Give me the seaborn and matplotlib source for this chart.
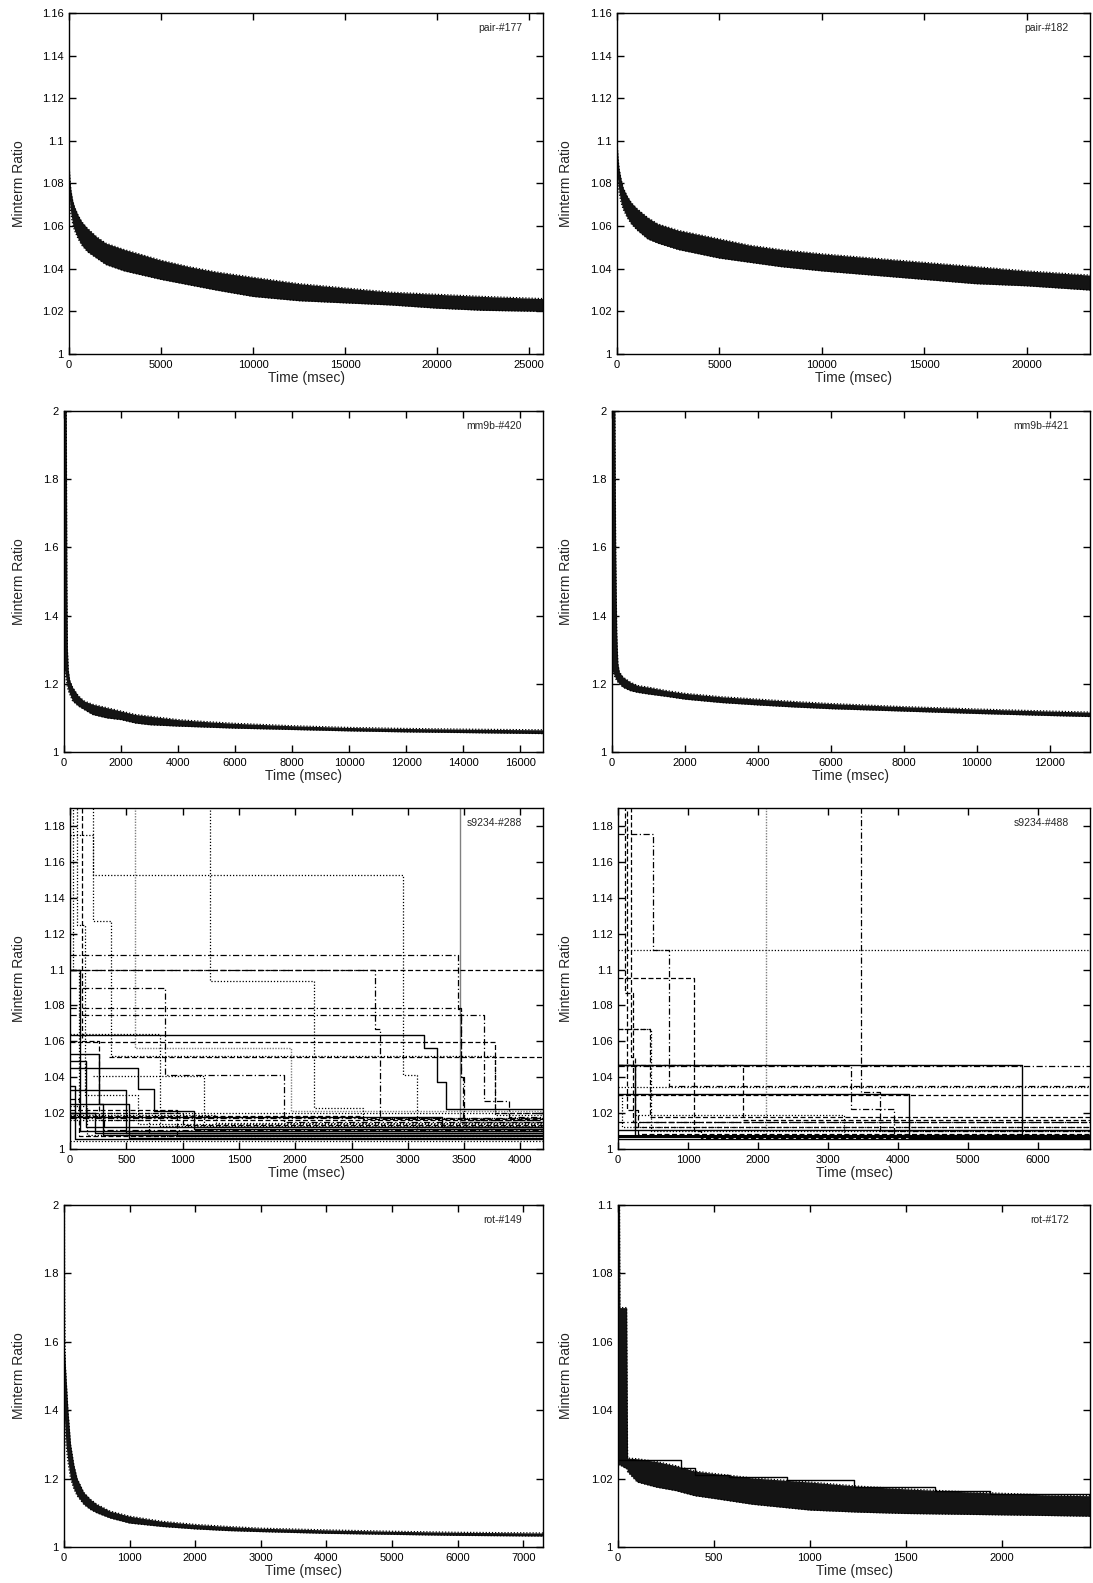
import matplotlib
matplotlib.use("Agg")
import matplotlib.pyplot as plt
import seaborn as sns

# ===============================
# Data
# ===============================
panel_names = ["pair-#177", "pair-#182", "mm9b-#420", "mm9b-#421",
               "s9234-#288", "s9234-#488", "rot-#149", "rot-#172"]

# axis ranges
xmax = [25760, 23100, 16800, 13100, 4200, 6750, 7300, 2460]
ymin = [1, 1, 1, 1, 1, 1, 1, 1]
ymax = [1.16, 1.16, 2, 2, 1.19, 1.19, 2, 1.1]

# ticks
xticks = [
    [0, 5000, 10000, 15000, 20000, 25000],
    [0, 5000, 10000, 15000, 20000],
    [0, 2000, 4000, 6000, 8000, 10000, 12000, 14000, 16000],
    [0, 2000, 4000, 6000, 8000, 10000, 12000],
    [0, 500, 1000, 1500, 2000, 2500, 3000, 3500, 4000],
    [0, 1000, 2000, 3000, 4000, 5000, 6000],
    [0, 1000, 2000, 3000, 4000, 5000, 6000, 7000],
    [0, 500, 1000, 1500, 2000],
]
yticks = [
    [1, 1.02, 1.04, 1.06, 1.08, 1.1, 1.12, 1.14, 1.16],
    [1, 1.02, 1.04, 1.06, 1.08, 1.1, 1.12, 1.14, 1.16],
    [1, 1.2, 1.4, 1.6, 1.8, 2],
    [1, 1.2, 1.4, 1.6, 1.8, 2],
    [1, 1.02, 1.04, 1.06, 1.08, 1.1, 1.12, 1.14, 1.16, 1.18],
    [1, 1.02, 1.04, 1.06, 1.08, 1.1, 1.12, 1.14, 1.16, 1.18],
    [1, 1.2, 1.4, 1.6, 1.8, 2],
    [1, 1.02, 1.04, 1.06, 1.08, 1.1],
]

# --- dense bundles: envelope of all runs ---
p177_x = [0, 50, 100, 200, 300, 500, 700, 1000, 1500, 2000, 3000, 4000, 5000,
          6500, 8000, 10000, 12500, 15000, 17500, 20000, 22500, 25760]
p177_hi = [1.09, 1.082, 1.077, 1.072, 1.069, 1.065, 1.062, 1.059, 1.055, 1.052, 1.049,
           1.0465, 1.044, 1.041, 1.0385, 1.036, 1.033, 1.031, 1.029, 1.028, 1.027, 1.026]
p177_lo = [1.075, 1.07, 1.066, 1.061, 1.058, 1.054, 1.051, 1.048, 1.045, 1.042, 1.039,
           1.037, 1.035, 1.0325, 1.030, 1.027, 1.025, 1.024, 1.023, 1.0215, 1.0205, 1.020]

p182_x = [0, 50, 100, 200, 300, 500, 700, 1000, 1500, 2000, 3000, 4000, 5000,
          6500, 8000, 10000, 12500, 15000, 17500, 20000, 23100]
p182_hi = [1.10, 1.092, 1.087, 1.082, 1.078, 1.074, 1.071, 1.068, 1.064, 1.061, 1.058,
           1.056, 1.054, 1.051, 1.049, 1.047, 1.045, 1.043, 1.041, 1.039, 1.037]
p182_lo = [1.085, 1.08, 1.076, 1.071, 1.068, 1.064, 1.061, 1.058, 1.054, 1.052, 1.049,
           1.047, 1.045, 1.043, 1.041, 1.039, 1.037, 1.035, 1.033, 1.032, 1.030]

m420_x = [0, 40, 80, 100, 120, 150, 200, 300, 500, 700, 1000, 1500, 2000, 2500,
          3000, 4000, 5000, 6000, 8000, 10000, 12000, 14000, 16800]
m420_hi = [2.0, 2.0, 2.0, 1.5, 1.3, 1.24, 1.21, 1.19, 1.165, 1.15, 1.14, 1.13, 1.12,
           1.11, 1.105, 1.095, 1.089, 1.084, 1.077, 1.072, 1.069, 1.067, 1.065]
m420_lo = [1.25, 1.23, 1.21, 1.2, 1.19, 1.18, 1.17, 1.15, 1.135, 1.125, 1.11, 1.1,
           1.095, 1.085, 1.08, 1.076, 1.073, 1.07, 1.066, 1.062, 1.059, 1.057, 1.054]

m421_x = [0, 40, 80, 100, 130, 160, 200, 300, 500, 700, 1000, 1500, 2000, 3000,
          4000, 5000, 6000, 8000, 10000, 12000, 13100]
m421_hi = [2.0, 2.0, 2.0, 1.6, 1.35, 1.26, 1.235, 1.22, 1.205, 1.195, 1.19, 1.18,
           1.172, 1.162, 1.155, 1.148, 1.142, 1.133, 1.126, 1.12, 1.117]
m421_lo = [1.24, 1.23, 1.22, 1.215, 1.21, 1.205, 1.2, 1.19, 1.18, 1.175, 1.17, 1.163,
           1.155, 1.145, 1.138, 1.132, 1.127, 1.12, 1.113, 1.107, 1.104]

r149_x = [0, 30, 60, 100, 150, 200, 300, 400, 500, 700, 1000, 1500, 2000, 2500,
          3000, 4000, 5000, 6000, 7300]
r149_hi = [1.6, 1.5, 1.4, 1.3, 1.24, 1.2, 1.16, 1.14, 1.125, 1.105, 1.09, 1.075,
           1.066, 1.06, 1.055, 1.05, 1.046, 1.043, 1.041]
r149_lo = [1.4, 1.3, 1.25, 1.2, 1.17, 1.15, 1.125, 1.11, 1.1, 1.085, 1.07, 1.06,
           1.053, 1.048, 1.045, 1.04, 1.037, 1.034, 1.032]
r149_spike_x = [6, 10, 22]
r149_spike_y = [2.0, 1.75, 1.5]

r172_x = [0, 8, 10, 40, 45, 50, 100, 200, 300, 400, 500, 700, 1000, 1250, 1500,
          1750, 2000, 2250, 2460]
r172_hi = [1.1, 1.1, 1.07, 1.07, 1.07, 1.026, 1.0258, 1.025, 1.0238, 1.0222, 1.0215,
           1.0202, 1.019, 1.0178, 1.017, 1.0163, 1.0157, 1.0152, 1.015]
r172_lo = [1.024, 1.024, 1.024, 1.023, 1.023, 1.022, 1.019, 1.0175, 1.0165, 1.015,
           1.0142, 1.0125, 1.0108, 1.0102, 1.0098, 1.0096, 1.0094, 1.0092, 1.009]
r172_top_x = [0, 330, 400, 580, 880, 1230, 1650, 1940, 2460]
r172_top_y = [1.0255, 1.023, 1.021, 1.0205, 1.0195, 1.0175, 1.0165, 1.0155, 1.015]

# --- s9234: individual step runs (change points) ---
s288_x = [
    [0, 3460, 4200], [0, 576, 1960, 4200], [0, 1246, 2165, 2600, 4200],
    [0, 202, 2953, 3078, 4200], [0, 3442, 3470, 3490, 4200], [0, 4200],
    [0, 2704, 2757, 4200], [0, 841, 1900, 4200], [0, 3470, 3500, 4200],
    [0, 3676, 3894, 4200], [0, 3146, 3255, 3343, 4200], [0, 3776, 4200],
    [350, 4200], [200, 1190, 4200], [0, 259, 290, 4200], [0, 601, 748, 1100, 4200],
    [0, 93, 4200], [0, 140, 4200], [0, 498, 4200], [0, 202, 368, 3776, 4200],
    [0, 30, 80, 4200], [0, 60, 130, 600, 4200], [0, 110, 260, 4200],
    [0, 800, 4200], [0, 950, 4200],
    [0, 40, 4200], [0, 80, 4200], [0, 150, 4200], [0, 220, 4200], [0, 300, 4200],
    [0, 520, 4200], [0, 1000, 4200], [0, 1300, 4200], [0, 2600, 4200],
    [0, 3300, 4200], [0, 4200], [0, 4200], [0, 700, 4200],
]
s288_y = [
    [1.25, 1.015, 1.015], [1.25, 1.056, 1.021, 1.021], [1.25, 1.0936, 1.0228, 1.012, 1.012],
    [1.25, 1.1528, 1.0413, 1.010, 1.010], [1.108, 1.078, 1.04, 1.016, 1.016], [1.1, 1.1],
    [1.1, 1.0666, 1.017, 1.017], [1.0897, 1.041, 1.015, 1.015], [1.0788, 1.04, 1.012, 1.012],
    [1.0744, 1.0265, 1.018, 1.018], [1.0634, 1.056, 1.0372, 1.0222, 1.0222], [1.0594, 1.02, 1.02],
    [1.051, 1.051], [1.0405, 1.012, 1.012], [1.053, 1.025, 1.008, 1.008],
    [1.045, 1.0335, 1.021, 1.011, 1.011],
    [1.1, 1.01, 1.01], [1.049, 1.012, 1.012], [1.033, 1.009, 1.009],
    [1.175, 1.127, 1.052, 1.019, 1.019],
    [1.25, 1.10, 1.02, 1.02], [1.25, 1.125, 1.03, 1.014, 1.014], [1.25, 1.06, 1.016, 1.016],
    [1.064, 1.013, 1.013], [1.022, 1.007, 1.007],
    [1.035, 1.0055, 1.0055], [1.028, 1.007, 1.007], [1.024, 1.008, 1.008],
    [1.02, 1.009, 1.009], [1.018, 1.0105, 1.0105],
    [1.025, 1.006, 1.006], [1.02, 1.0135, 1.0135], [1.019, 1.0145, 1.0145],
    [1.0185, 1.0165, 1.0165], [1.018, 1.0125, 1.0125], [1.0175, 1.0175],
    [1.0045, 1.0045], [1.016, 1.0075, 1.0075],
]
s288_styles = [
    "grey", "greydot", "dotted", "dotted", "dashdot", "dashed",
    "dashdot", "dashdot", "dashdot", "dashdot", "solid", "dashed",
    "dashed", "dotted", "solid", "solid",
    "solid", "solid", "solid", "dotted",
    "dotted", "dotted", "dashed", "dotted", "dashed",
    "solid", "dashed", "dotted", "solid", "dashdot",
    "solid", "dashed", "dotted", "dashed", "solid", "dashdot", "dotted", "dotted",
]

s488_x = [
    [0, 2114, 6750], [0, 6750], [0, 3475, 3740, 6750], [0, 505, 728, 6750],
    [0, 1089, 1180, 6750], [0, 455, 6750], [0, 5777, 6750], [0, 3327, 3946, 6750],
    [3475, 6750], [0, 4168, 6750], [0, 6750], [0, 6750], [0, 1782, 6750],
    [250, 3238, 6750], [0, 6750], [0, 6750], [0, 6750], [0, 6750],
    [0, 99, 210, 6750], [0, 193, 240, 6750], [0, 250, 6750], [0, 470, 6750],
    [0, 60, 6750], [0, 130, 280, 6750],
]
s488_y = [
    [1.25, 1.0065, 1.0065], [1.111, 1.1102], [1.25, 1.032, 1.01, 1.01],
    [1.1757, 1.111, 1.035, 1.035], [1.0951, 1.01, 1.006, 1.006], [1.067, 1.018, 1.018],
    [1.0469, 1.006, 1.006], [1.046, 1.0222, 1.008, 1.008], [1.0462, 1.0462],
    [1.0308, 1.006, 1.006], [1.0302, 1.0302], [1.0343, 1.0343], [1.0469, 1.016, 1.016],
    [1.019, 1.008, 1.008], [1.0148, 1.0148], [1.0107, 1.0098], [1.007, 1.007],
    [1.0055, 1.0055], [1.25, 1.087, 1.015, 1.015], [1.25, 1.051, 1.012, 1.012],
    [1.047, 1.007, 1.007], [1.067, 1.01, 1.01], [1.03, 1.012, 1.012],
    [1.25, 1.022, 1.0085, 1.0085],
]
s488_styles = [
    "greydot", "dotted", "dashdot", "dashdot", "dashed", "dashed", "solid", "dashdot",
    "dashdot", "solid", "dashed", "dotted", "dashed", "dotted", "dashdot", "solid",
    "thick", "solid", "dashed", "dashed", "solid", "dotted", "dotted", "dashed",
]

bands = {
    0: (p177_x, p177_lo, p177_hi),
    1: (p182_x, p182_lo, p182_hi),
    2: (m420_x, m420_lo, m420_hi),
    3: (m421_x, m421_lo, m421_hi),
    6: (r149_x, r149_lo, r149_hi),
    7: (r172_x, r172_lo, r172_hi),
}
steps = {4: (s288_x, s288_y, s288_styles), 5: (s488_x, s488_y, s488_styles)}

# ===============================
# Layout (pixel boxes: left, top, right, bottom)
# ===============================
W, H = 1093, 1583
boxes = [
    (69, 13, 543, 354), (617, 13, 1090, 354),
    (64, 411, 543, 752), (612, 411, 1090, 752),
    (70, 808, 543, 1149), (618, 808, 1090, 1149),
    (64, 1205, 543, 1547), (618, 1205, 1090, 1547),
]

line_styles = {
    "solid": dict(color="black", linewidth=1.0, linestyle="-"),
    "thick": dict(color="black", linewidth=2.2, linestyle="-"),
    "dashed": dict(color="black", linewidth=0.9, linestyle=(0, (4, 2))),
    "dotted": dict(color="black", linewidth=0.9, linestyle=(0, (1, 1.5))),
    "dashdot": dict(color="black", linewidth=0.9, linestyle=(0, (5, 2, 1, 2))),
    "grey": dict(color="0.5", linewidth=1.0, linestyle="-"),
    "greydot": dict(color="0.5", linewidth=1.0, linestyle=(0, (1, 1))),
}

sns.set_style("ticks")
plt.rcParams['font.family'] = ['Liberation Sans', 'DejaVu Sans']
plt.rcParams['axes.linewidth'] = 1.0

fig = plt.figure(figsize=(W / 100, H / 100), dpi=100)

for i, name in enumerate(panel_names):
    l, t, r, b = boxes[i]
    w_px, h_px = r - l, b - t
    ax = fig.add_axes([l / W, 1 - b / H, w_px / W, h_px / H])

    if i in bands:
        bx, blo, bhi = bands[i]
        ax.fill_between(bx, blo, bhi, color="0.08", linewidth=0)
        sns.lineplot(x=bx, y=bhi, ax=ax, estimator=None, sort=False, **line_styles["dotted"])
        sns.lineplot(x=bx, y=blo, ax=ax, estimator=None, sort=False, **line_styles["dotted"])
    if i == 6:
        sns.lineplot(x=r149_spike_x, y=r149_spike_y, ax=ax, estimator=None, sort=False,
                     **line_styles["dotted"])
    if i == 7:
        sns.lineplot(x=r172_top_x, y=r172_top_y, ax=ax, estimator=None, sort=False,
                     drawstyle="steps-post", **line_styles["solid"])
    if i in steps:
        sx, sy, sst = steps[i]
        for xs, ys, st in zip(sx, sy, sst):
            sns.lineplot(x=xs, y=ys, ax=ax, estimator=None, sort=False,
                         drawstyle="steps-post", **line_styles[st])

    ax.set_xlim(0, xmax[i])
    ax.set_ylim(ymin[i], ymax[i])
    ax.set_xticks(xticks[i])
    ax.set_xticklabels(["%g" % v for v in xticks[i]])
    ax.set_yticks(yticks[i])
    ax.set_yticklabels(["%g" % v for v in yticks[i]])
    ax.tick_params(direction="in", top=True, right=True, length=5, width=1.0,
                   labelsize=8, pad=4, colors="black")
    for sp in ax.spines.values():
        sp.set_visible(True)
        sp.set_color("black")

    ax.set_xlabel("Time (msec)", fontsize=10, va="center")
    ax.xaxis.set_label_coords(0.5, -24 / h_px)
    ax.set_ylabel("Minterm Ratio", fontsize=10, va="center")
    lab_x = 19 if l < 300 else 566
    ax.yaxis.set_label_coords((lab_x - l) / w_px, 0.5)

    ax.text(1 - 21 / w_px, 1 - 15 / h_px, name, transform=ax.transAxes,
            ha="right", va="center", fontsize=7.5)

fig.savefig("out.png", dpi=100)
